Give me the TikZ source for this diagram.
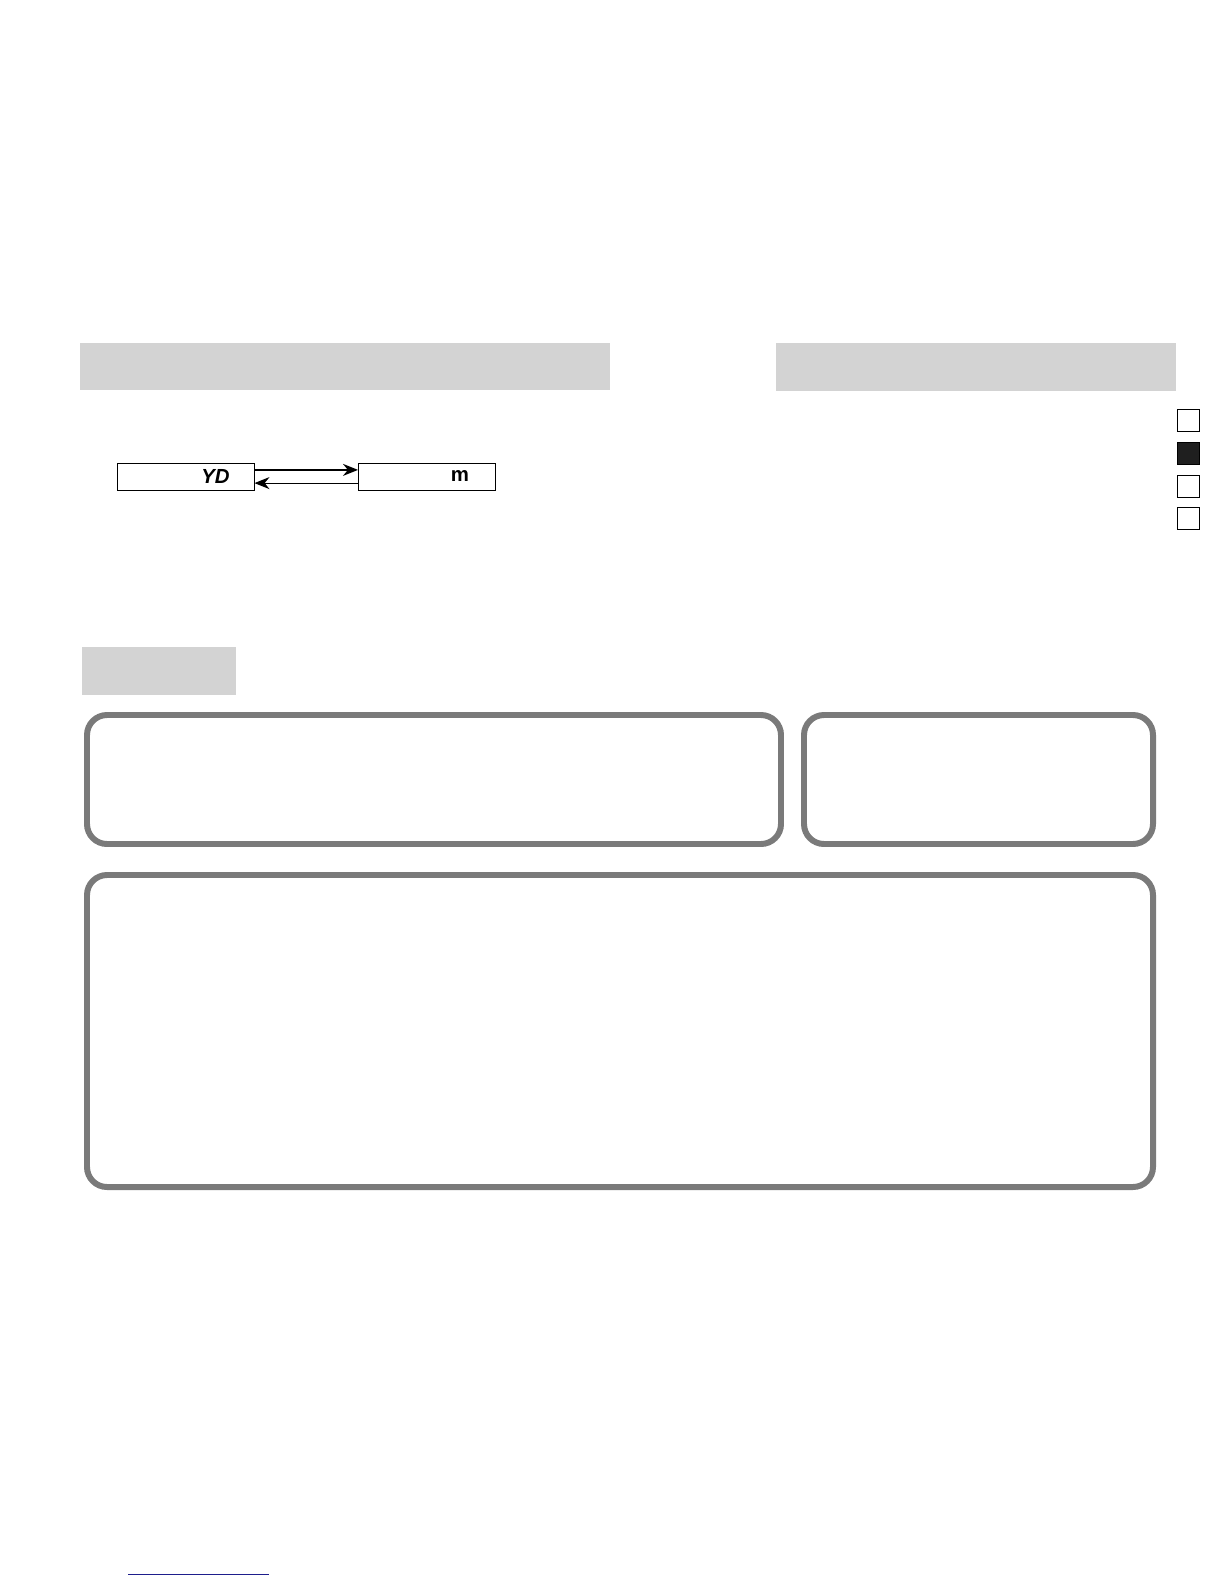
\documentclass[tikz,border=0pt]{standalone}
\usepackage{fontspec}
\setmainfont{Liberation Sans}
\usetikzlibrary{arrows.meta}
\definecolor{barfill}{RGB}{211,211,211}
\definecolor{frame}{RGB}{122,122,122}
\definecolor{linkblue}{RGB}{30,30,140}
\tikzset{
  bar/.style={fill=barfill, draw=none},
  panel/.style={draw=frame, line width=8.5pt, rounded corners=1cm},
  tab/.style={draw, line width=1.8pt, inner sep=0pt, minimum width=1.12cm, minimum height=1.12cm},
  unitbox/.style={draw, line width=1.4pt, minimum width=6.85cm, minimum height=1.35cm,
    inner sep=0pt, font=\fontsize{29}{29}\selectfont\bfseries},
}

\begin{document}
\begin{tikzpicture}[x=0.05cm, y=-0.05cm]
  \useasboundingbox (0, 0) rectangle (1224, 1584);

  % header bars
  \fill[barfill] (80, 343) rectangle (610, 390);
  \fill[barfill] (776, 343) rectangle (1176, 391);

  % side tabs
  \node[tab] (tab1) at (1188.5, 420.5) {};
  \node[tab, fill=black!88] (tab2) at (1188.5, 453.5) {};
  \node[tab] (tab3) at (1188.5, 486.5) {};
  \node[tab] (tab4) at (1188.5, 518.5) {};

  % units
  \node[unitbox] (yd) at (185.5, 476.5) {\hspace*{3.0cm}\itshape YD};
  \node[unitbox] (m) at (427, 476.5) {\hspace*{3.3cm}m};
  \draw[line width=2.4pt, -{Stealth[length=0.75cm, width=0.6cm]}]
    ([yshift=0.33cm]yd.east) -- ([yshift=0.33cm]m.west);
  \draw[line width=1.4pt, -{Stealth[length=0.75cm, width=0.6cm]}]
    ([yshift=-0.33cm]m.west) -- ([yshift=-0.33cm]yd.east);

  % second section
  \fill[barfill] (82, 647) rectangle (236, 695);
  \draw[panel] (87, 715) rectangle (781, 844);
  \draw[panel] (804, 715) rectangle (1153, 844);
  \draw[panel] (87, 875) rectangle (1153, 1187);

  % footer rule
  \draw[linkblue, line width=1.4pt] (128, 1574) -- (269, 1574);
\end{tikzpicture}
\end{document}
